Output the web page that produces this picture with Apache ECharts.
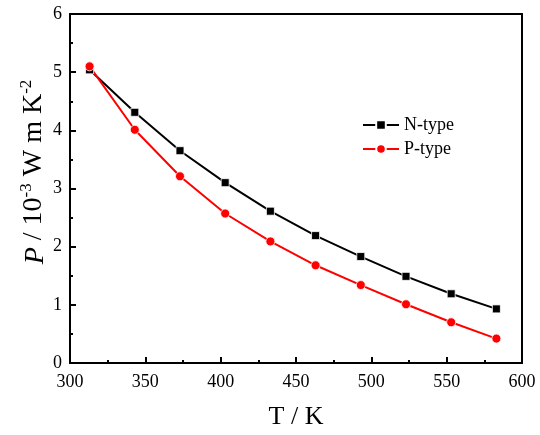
<!DOCTYPE html>
<html><head><meta charset="utf-8">
<script src="https://cdn.jsdelivr.net/npm/echarts@6/dist/echarts.min.js"></script>
<style>html,body{margin:0;padding:0;background:#fff}#c{width:540px;height:435px}</style>
</head><body><div id="c"></div>
<script>
const temps = [313, 343, 373, 403, 433, 463, 493, 523, 553, 583];
const nType = [5.04, 4.31, 3.65, 3.10, 2.61, 2.19, 1.83, 1.49, 1.19, 0.93];
const pType = [5.10, 4.01, 3.21, 2.57, 2.09, 1.68, 1.34, 1.01, 0.70, 0.42];
const seriesNames = ['N-type', 'P-type'];
const xTicks = {min: 300, max: 600, interval: 50};
const yTicks = {min: 0, max: 6, interval: 1};

const font = 'Liberation Serif';
const chart = echarts.init(document.getElementById('c'), null, {renderer: 'canvas'});
const pair = (xs, ys) => xs.map((x, i) => [x, ys[i]]);
chart.setOption({
  animation: false,
  grid: {left: 70, right: 18, top: 14, bottom: 63, show: true, borderColor: '#000', borderWidth: 2, backgroundColor: 'transparent'},
  legend: {
    orient: 'vertical', left: 357, top: 111, itemWidth: 36, itemHeight: 12, itemGap: 6,
    textStyle: {fontFamily: font, fontSize: 18, color: '#000'},
    data: seriesNames
  },
  xAxis: {
    type: 'value', min: xTicks.min, max: xTicks.max, interval: xTicks.interval,
    name: 'T / K', nameLocation: 'middle', nameGap: 41,
    nameTextStyle: {fontFamily: font, fontSize: 26, color: '#000'},
    axisLine: {lineStyle: {color: '#000', width: 2}},
    axisTick: {inside: true, length: 6, lineStyle: {color: '#000', width: 2}},
    minorTick: {show: true, splitNumber: 2, length: 3, lineStyle: {color: '#000', width: 2}},
    axisLabel: {fontFamily: font, fontSize: 18, color: '#000', margin: 10},
    splitLine: {show: false}
  },
  yAxis: {
    type: 'value', min: yTicks.min, max: yTicks.max, interval: yTicks.interval,
    axisLine: {lineStyle: {color: '#000', width: 2}},
    axisTick: {inside: true, length: 6, lineStyle: {color: '#000', width: 2}},
    minorTick: {show: true, splitNumber: 2, length: 3, lineStyle: {color: '#000', width: 2}},
    axisLabel: {fontFamily: font, fontSize: 18, color: '#000', margin: 8},
    splitLine: {show: false}
  },
  graphic: [{
    type: 'text', x: 34, y: 172, rotation: Math.PI / 2,
    style: {
      text: '{i|P} / 10{s|-3} W m K{s|-2}',
      align: 'center', verticalAlign: 'middle',
      fill: '#000',
      rich: {
        i: {fontFamily: font, fontSize: 28, fontStyle: 'italic', lineHeight: 32, verticalAlign: 'bottom', fill: '#000'},
        s: {fontFamily: font, fontSize: 17, lineHeight: 32, verticalAlign: 'top', fill: '#000'}
      },
      fontFamily: font, fontSize: 28, lineHeight: 32
    }
  }],
  series: [
    {name: seriesNames[0], type: 'line', data: pair(temps, nType), symbol: 'rect', symbolSize: 8,
     lineStyle: {color: '#000', width: 2}, itemStyle: {color: '#000', borderColor: '#fff', borderWidth: 0.8}},
    {name: seriesNames[1], type: 'line', data: pair(temps, pType), symbol: 'circle', symbolSize: 9,
     lineStyle: {color: '#ff0000', width: 2}, itemStyle: {color: '#ff0000', borderColor: '#fff', borderWidth: 0.8}}
  ]
});
</script></body></html>
